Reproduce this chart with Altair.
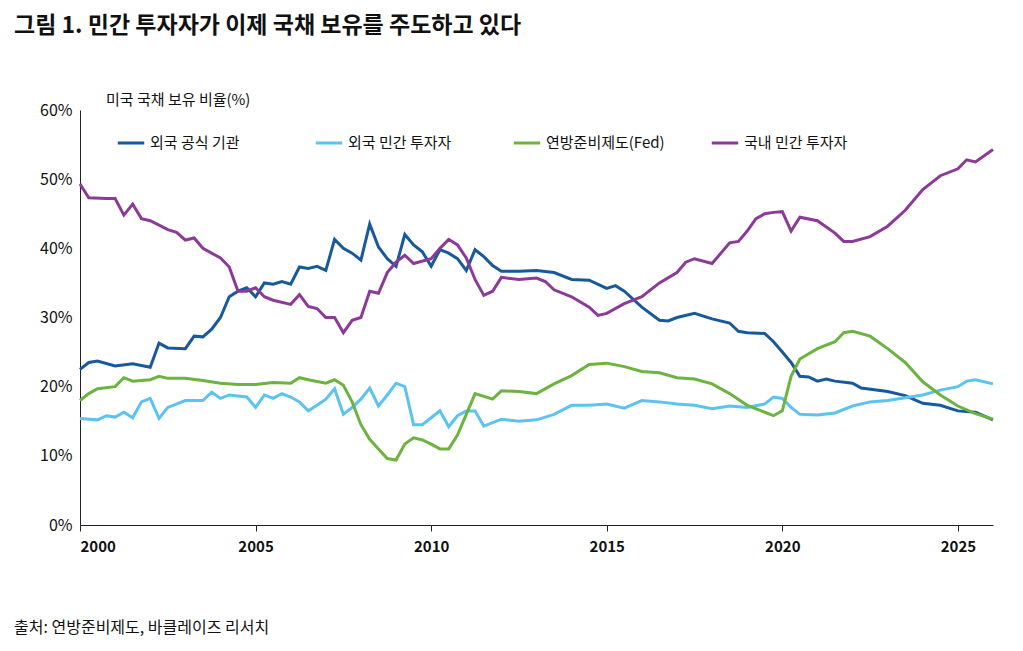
import altair as alt
import pandas as pd

FONT = "Noto Sans CJK KR"

series_names = ["외국 공식 기관", "외국 민간 투자자", "연방준비제도(Fed)", "국내 민간 투자자"]
series_colors = ["#17599c", "#5bc3f2", "#6cb33f", "#8b3a97"]

official_x = [2000, 2000.25, 2000.5, 2001, 2001.5, 2002, 2002.25, 2002.5, 2003, 2003.25, 2003.5, 2003.75,
              2004, 2004.25, 2004.5, 2004.75, 2005, 2005.25, 2005.5, 2005.75, 2006, 2006.25, 2006.5, 2006.75,
              2007, 2007.25, 2007.5, 2007.75, 2008, 2008.25, 2008.5, 2008.75, 2009, 2009.25, 2009.5, 2009.75,
              2010, 2010.25, 2010.5, 2010.75, 2011, 2011.25, 2011.5, 2011.75, 2012, 2012.5, 2013, 2013.5,
              2014, 2014.5, 2015, 2015.25, 2015.5, 2016, 2016.5, 2016.75, 2017, 2017.5, 2018, 2018.5, 2018.75,
              2019, 2019.5, 2019.75, 2020, 2020.25, 2020.5, 2020.75, 2021, 2021.25, 2021.5, 2022, 2022.25,
              2023, 2023.5, 2024, 2024.5, 2025, 2025.5, 2026]
official_y = [22.5, 23.5, 23.7, 23.0, 23.3, 22.8, 26.3, 25.6, 25.5, 27.3, 27.2, 28.3,
              30.0, 33.0, 33.8, 34.3, 33.0, 35.0, 34.8, 35.2, 34.8, 37.3, 37.1, 37.4,
              36.8, 41.3, 40.0, 39.3, 38.3, 43.5, 40.2, 38.5, 37.4, 42.0, 40.5, 39.5,
              37.4, 39.8, 39.3, 38.5, 36.8, 39.8, 38.8, 37.5, 36.7, 36.7, 36.8, 36.5,
              35.5, 35.4, 34.2, 34.6, 33.8, 31.5, 29.6, 29.5, 30.0, 30.6, 29.8, 29.2, 28.0,
              27.8, 27.7, 26.5, 25.0, 23.5, 21.5, 21.4, 20.8, 21.1, 20.8, 20.5, 19.8,
              19.3, 18.7, 17.6, 17.3, 16.5, 16.3, 15.2]

private_x = [2000, 2000.5, 2000.75, 2001, 2001.25, 2001.5, 2001.75, 2002, 2002.25, 2002.5, 2003, 2003.5,
             2003.75, 2004, 2004.25, 2004.75, 2005, 2005.25, 2005.5, 2005.75, 2006, 2006.25, 2006.5, 2006.75,
             2007, 2007.25, 2007.5, 2007.75, 2008, 2008.25, 2008.5, 2008.75, 2009, 2009.25, 2009.5, 2009.75,
             2010, 2010.25, 2010.5, 2010.75, 2011, 2011.25, 2011.5, 2012, 2012.5, 2013, 2013.5, 2014, 2014.5,
             2015, 2015.5, 2016, 2016.5, 2017, 2017.5, 2018, 2018.5, 2019, 2019.5, 2019.75, 2020, 2020.25,
             2020.5, 2021, 2021.5, 2022, 2022.5, 2023, 2023.5, 2024, 2024.5, 2025, 2025.25, 2025.5, 2026]
private_y = [15.4, 15.2, 15.8, 15.6, 16.3, 15.5, 17.8, 18.3, 15.4, 17.0, 18.0, 18.0,
             19.2, 18.3, 18.8, 18.5, 17.0, 18.8, 18.3, 19.0, 18.5, 17.8, 16.5, 17.3,
             18.2, 19.7, 16.0, 17.0, 18.2, 19.8, 17.2, 18.8, 20.5, 20.0, 14.5, 14.5,
             15.5, 16.5, 14.2, 15.8, 16.5, 16.5, 14.3, 15.3, 15.0, 15.2, 16.0, 17.3, 17.3,
             17.5, 16.9, 18.0, 17.8, 17.5, 17.3, 16.8, 17.2, 17.0, 17.5, 18.5, 18.3, 17.0,
             16.0, 15.9, 16.2, 17.2, 17.8, 18.0, 18.4, 18.8, 19.5, 20.0, 20.8, 21.0, 20.4]

fed_x = [2000, 2000.25, 2000.5, 2001, 2001.25, 2001.5, 2002, 2002.25, 2002.5, 2003, 2003.5, 2004, 2004.5,
         2005, 2005.5, 2006, 2006.25, 2006.5, 2007, 2007.25, 2007.5, 2007.75, 2008, 2008.25, 2008.5, 2008.75,
         2009, 2009.25, 2009.5, 2009.75, 2010, 2010.25, 2010.5, 2010.75, 2011, 2011.25, 2011.75, 2012, 2012.5,
         2013, 2013.5, 2014, 2014.5, 2015, 2015.5, 2016, 2016.5, 2017, 2017.5, 2018, 2018.5, 2019, 2019.5,
         2019.75, 2020, 2020.25, 2020.5, 2021, 2021.5, 2021.75, 2022, 2022.5, 2023, 2023.5, 2024, 2024.5,
         2025, 2025.5, 2026]
fed_y = [18.0, 19.0, 19.7, 20.0, 21.3, 20.8, 21.0, 21.5, 21.2, 21.2, 20.9, 20.5, 20.3,
         20.3, 20.6, 20.5, 21.3, 21.0, 20.5, 21.0, 20.2, 17.8, 14.5, 12.4, 11.0, 9.6,
         9.4, 11.7, 12.6, 12.3, 11.7, 11.0, 11.0, 13.0, 16.0, 19.0, 18.2, 19.4, 19.3,
         19.0, 20.4, 21.6, 23.2, 23.4, 22.9, 22.2, 22.0, 21.3, 21.1, 20.4, 19.0, 17.3, 16.3,
         15.8, 16.5, 21.5, 24.0, 25.5, 26.5, 27.8, 28.0, 27.3, 25.5, 23.5, 20.7, 18.8,
         17.2, 16.1, 15.3]

domestic_x = [2000, 2000.25, 2000.75, 2001, 2001.25, 2001.5, 2001.75, 2002, 2002.5, 2002.75, 2003, 2003.25,
              2003.5, 2004, 2004.25, 2004.5, 2004.75, 2005, 2005.25, 2005.5, 2006, 2006.25, 2006.5, 2006.75,
              2007, 2007.25, 2007.5, 2007.75, 2008, 2008.25, 2008.5, 2008.75, 2009, 2009.25, 2009.5, 2010,
              2010.25, 2010.5, 2010.75, 2011, 2011.25, 2011.5, 2011.75, 2012, 2012.5, 2013, 2013.25, 2013.5,
              2014, 2014.5, 2014.75, 2015, 2015.5, 2016, 2016.5, 2017, 2017.25, 2017.5, 2018, 2018.5, 2018.75,
              2019, 2019.25, 2019.5, 2019.75, 2020, 2020.25, 2020.5, 2021, 2021.5, 2021.75, 2022, 2022.5,
              2023, 2023.5, 2024, 2024.5, 2025, 2025.25, 2025.5, 2026]
domestic_y = [49.3, 47.3, 47.2, 47.2, 44.8, 46.4, 44.3, 44.0, 42.7, 42.3, 41.2, 41.5,
              40.0, 38.6, 37.3, 33.8, 33.8, 34.3, 33.0, 32.5, 31.9, 33.3, 31.6, 31.3,
              30.0, 30.0, 27.8, 29.6, 30.0, 33.8, 33.5, 36.5, 38.0, 39.0, 37.8, 38.5,
              40.0, 41.3, 40.5, 38.6, 35.5, 33.2, 33.8, 35.8, 35.5, 35.7, 35.2, 34.0,
              33.0, 31.5, 30.3, 30.6, 32.0, 33.0, 35.0, 36.5, 38.0, 38.5, 37.8, 40.8, 41.0,
              42.5, 44.3, 45.0, 45.2, 45.3, 42.5, 44.5, 44.0, 42.2, 41.0, 41.0, 41.7,
              43.2, 45.5, 48.5, 50.5, 51.5, 52.8, 52.5, 54.3]

rows = []
for name, xs, ys in zip(series_names,
                        [official_x, private_x, fed_x, domestic_x],
                        [official_y, private_y, fed_y, domestic_y]):
    for x, y in zip(xs, ys):
        rows.append({"series": name, "year": x, "share": y})
df = pd.DataFrame(rows)

W, H = 913, 415

lines = alt.Chart(df).mark_line(strokeWidth=3).encode(
    x=alt.X("year:Q", scale=alt.Scale(domain=[2000, 2026], nice=False),
            axis=alt.Axis(title=None, values=[2000, 2005, 2010, 2015, 2020, 2025], format="d",
                          labelFontWeight="bold", labelFontSize=15, labelColor="#111",
                          labelPadding=8, tickSize=6, domainColor="#222", tickColor="#222", grid=False)),
    y=alt.Y("share:Q", scale=alt.Scale(domain=[0, 60], nice=False),
            axis=alt.Axis(title=None, values=[0, 10, 20, 30, 40, 50, 60],
                          labelExpr="datum.value + '%'", labelFontSize=16, labelColor="#111",
                          labelPadding=8, tickSize=0, domainColor="#222", grid=False)),
    color=alt.Color("series:N", scale=alt.Scale(domain=series_names, range=series_colors),
                    legend=alt.Legend(title=None, orient="none", legendX=36, legendY=18,
                                      direction="horizontal", columns=4, gridAlign="all",
                                      columnPadding=40, symbolType="stroke", symbolSize=700,
                                      symbolStrokeWidth=3, labelFontSize=15, labelFont=FONT,
                                      labelColor="#111", labelLimit=300)),
    order="year:Q",
)

texts = ["그림 1. 민간 투자자가 이제 국채 보유를 주도하고 있다", "미국 국채 보유 비율(%)", "출처: 연방준비제도, 바클레이즈 리서치"]
texts_df = pd.DataFrame({"label": texts})

title = alt.Chart(texts_df.iloc[[0]]).mark_text(align="left", baseline="middle", font=FONT,
                                                fontSize=23, fontWeight="bold", color="#111").encode(
    x=alt.value(-66), y=alt.value(-84), text="label:N")
ylab = alt.Chart(texts_df.iloc[[1]]).mark_text(align="left", baseline="middle", font=FONT,
                                               fontSize=15, color="#111").encode(
    x=alt.value(26), y=alt.value(-10), text="label:N")
source = alt.Chart(texts_df.iloc[[2]]).mark_text(align="left", baseline="middle", font=FONT,
                                                 fontSize=16, color="#111").encode(
    x=alt.value(-66), y=alt.value(H + 103), text="label:N")

chart = alt.layer(lines, title, ylab, source).properties(
    width=W, height=H,
    padding={"left": 72, "top": 102, "right": 10, "bottom": 118},
    autosize=alt.AutoSizeParams(type="none"),
    background="white",
).configure_view(stroke=None).configure_axis(labelFont=FONT)

chart.save("out.html", embed_options={"renderer": "svg", "actions": False})
